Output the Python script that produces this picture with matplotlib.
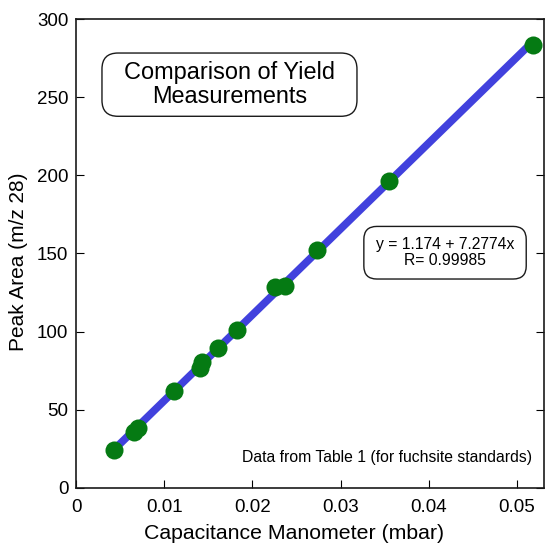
import matplotlib
matplotlib.use("Agg")
from matplotlib import pyplot as plt
from matplotlib.patches import FancyBboxPatch
from matplotlib.transforms import IdentityTransform
import numpy as np

plt.rcParams['font.family'] = ['Liberation Sans', 'DejaVu Sans']

# capacitance manometer (mbar) vs peak area (m/z 28)
cap_mbar = [0.00433, 0.00658, 0.00706, 0.01112, 0.01408, 0.01428, 0.01614,
            0.01823, 0.02257, 0.02368, 0.02731, 0.03548, 0.05178]
peak_area = [24.3, 35.9, 38.4, 62.1, 76.6, 80.9, 89.8,
             101.2, 128.5, 129.5, 152.4, 196.6, 283.5]
xticks = [0, 0.01, 0.02, 0.03, 0.04, 0.05]
xticklabels = ['0', '0.01', '0.02', '0.03', '0.04', '0.05']
yticks = [0, 50, 100, 150, 200, 250, 300]

fig = plt.figure(figsize=(5.46, 5.44), dpi=100)
ax = fig.add_axes([76 / 546, 56 / 544, 468 / 546, 469 / 544])

# fit line through the points
coef = np.polyfit(cap_mbar, peak_area, 1)
xl = np.array([min(cap_mbar), max(cap_mbar)])
ax.plot(xl, np.polyval(coef, xl), color='#4141dd', lw=5.5, solid_capstyle='butt', zorder=2)
ax.plot(cap_mbar, peak_area, 'o', color='#057a13', ms=13, mec='none', zorder=3)

ax.set_xlim(0, 0.05306)
ax.set_ylim(0, 300)
ax.set_xticks(xticks)
ax.set_xticklabels(xticklabels)
ax.set_yticks(yticks)
ax.tick_params(axis='x', direction='in', length=6, labelsize=13.5, pad=8)
ax.tick_params(axis='y', direction='in', length=6, labelsize=13.5, right=True, pad=5.5)
for s in ax.spines.values():
    s.set_linewidth(1.2)
    s.set_color('#1a1a1a')

ax.set_xlabel('Capacitance Manometer (mbar)', fontsize=15.3)
ax.xaxis.set_label_coords(0.4655, -0.077)
ax.set_ylabel('Peak Area (m/z 28)', fontsize=15)
ax.yaxis.set_label_coords(-0.1026, 0.483)

t1 = ax.text(0.0174, 258, 'Comparison of Yield\nMeasurements', ha='center', va='center',
             fontsize=16.9, linespacing=1.07, zorder=6)
t2 = ax.text(0.04184, 150.5, 'y = 1.174 + 7.2774x\nR= 0.99985', ha='center', va='center',
             fontsize=11.3, linespacing=1.05, zorder=6)
ax.text(0.0517, 19.2, 'Data from Table 1 (for fuchsite standards)', ha='right', va='center',
        fontsize=11.3)

# rounded frames around the two notes, sized from the rendered text
renderer = fig.canvas.get_renderer()
for t, padx, pady, r in [(t1, 22, 8, 16), (t2, 12, 11, 13)]:
    bb = t.get_window_extent(renderer)
    box = FancyBboxPatch((bb.x0 - padx, bb.y0 - pady), bb.width + 2 * padx, bb.height + 2 * pady,
                         boxstyle='round,pad=0,rounding_size=%d' % r,
                         transform=IdentityTransform(),
                         fc='white', ec='#1a1a1a', lw=1, zorder=5)
    ax.add_patch(box)

fig.savefig('out.png', dpi=100)
